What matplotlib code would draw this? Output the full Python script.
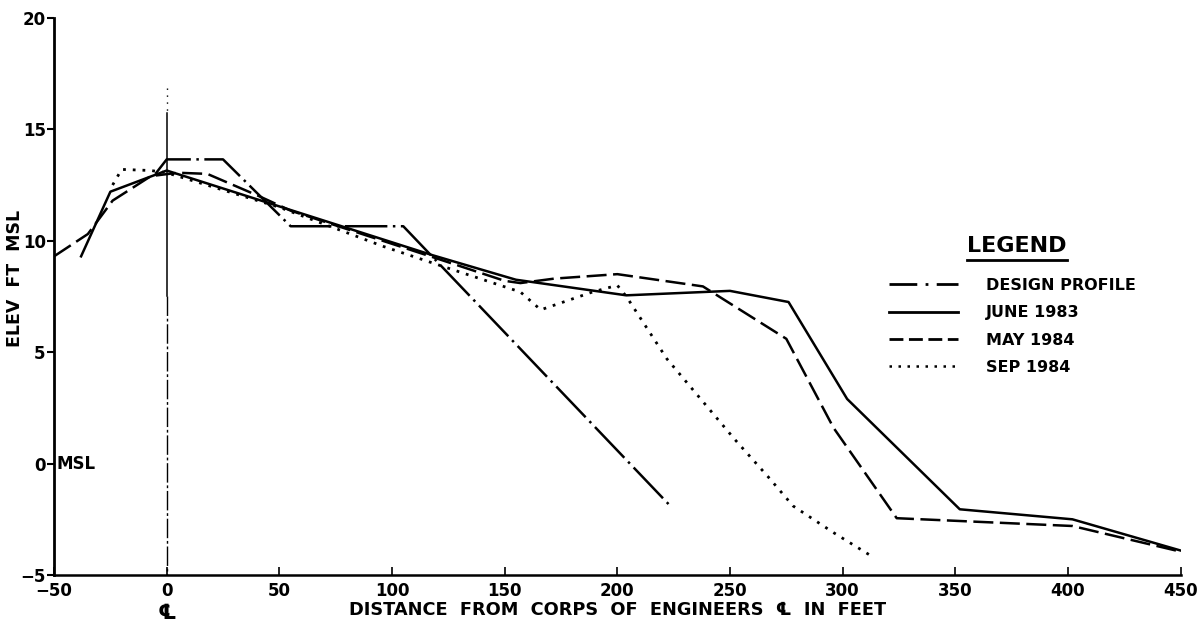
import numpy as np
import matplotlib
matplotlib.use("Agg")
import matplotlib.pyplot as plt
from matplotlib.lines import Line2D
import matplotlib.transforms as mtransforms

plt.rcParams['font.family'] = ['DejaVu Sans']
plt.rcParams['font.weight'] = 'bold'

# profile data (distance from centerline in ft, elevation ft MSL)
design_x = [-5, 0, 25, 55, 105, 224]
design_y = [13.0, 13.65, 13.65, 10.65, 10.65, -1.95]

june_x = [-38, -25, 0, 118, 155, 204, 250, 276, 302, 352, 402, 450]
june_y = [9.3, 12.2, 13.15, 9.35, 8.25, 7.55, 7.75, 7.25, 2.9, -2.05, -2.5, -3.9]

may_x = [-50, -35, -24, -7, 5, 18, 41, 55, 120, 150, 157, 172, 200, 238, 275, 296, 324, 402, 450]
may_y = [9.3, 10.3, 11.8, 12.9, 13.05, 13.0, 12.0, 11.35, 9.2, 8.2, 8.1, 8.3, 8.5, 7.95, 5.6, 1.6, -2.45, -2.8, -3.95]

sep_x = [-24, -20, -7, 0, 50, 75, 96, 121, 157, 166, 189, 200, 204, 222, 237, 252, 267, 278, 296, 312]
sep_y = [12.5, 13.2, 13.15, 13.05, 11.5, 10.55, 9.75, 8.9, 7.7, 6.9, 7.7, 8.0, 7.5, 4.7, 2.9, 1.1, -0.6, -1.9, -3.1, -4.1]

labels = ["DESIGN PROFILE", "JUNE 1983", "MAY 1984", "SEP 1984"]
xticks = [-50, 0, 50, 100, 150, 200, 250, 300, 350, 400, 450]
yticks = [-5, 0, 5, 10, 15, 20]

# centerline pieces (elevations)
cl_dot = [16.85, 15.75]
cl_solid = [15.75, 7.5]
cl_dash = [7.5, -5]

fig = plt.figure(figsize=(12.01, 6.31), dpi=100)
ax = fig.add_axes([0.045, 0.0887, 0.938, 0.883])

lw = 1.8
ax.plot(design_x, design_y, color='black', lw=lw, linestyle=(0, (17, 2.2, 1, 2.2)))
ax.plot(june_x, june_y, color='black', lw=lw)
ax.plot(may_x, may_y, color='black', lw=lw, linestyle=(0, (8, 2.6)))
ax.plot(sep_x, sep_y, color='black', lw=2.0, linestyle=(0, (1, 2.5)))

# centerline at 0
ax.plot([0, 0], cl_dot, color='black', lw=1.0, linestyle=(0, (1, 4)))
ax.plot([0, 0], cl_solid, color='black', lw=1.1)
ax.plot([0, 0], cl_dash, color='black', lw=1.0, linestyle=(0, (14, 2, 2, 2)))

ax.set_xlim(-50, 450)
ax.set_ylim(-5, 20)
ax.set_xticks(xticks)
ax.set_yticks(yticks)
ax.spines['top'].set_visible(False)
ax.spines['right'].set_visible(False)
ax.spines['left'].set_linewidth(2.0)
ax.spines['bottom'].set_linewidth(1.8)
ax.tick_params(axis='x', direction='in', length=6, width=1.2, labelsize=12, pad=5)
ax.tick_params(axis='y', direction='out', length=5, width=1.5, labelsize=12, pad=1)
# nudge the -5 label up slightly so it clears the -50 label
ax.get_yticklabels()[0].set_va('center_baseline')

ax.set_xlabel("DISTANCE  FROM  CORPS  OF  ENGINEERS  \u2104  IN  FEET",
              fontsize=12.8, fontweight='bold', labelpad=1)
ax.text(-0.035, 0.533, "ELEV  FT  MSL", transform=ax.transAxes, rotation=90,
        fontsize=12.5, fontweight='bold', ha='center', va='center')
ax.text(-48.8, 0, "MSL", fontsize=12, fontweight='bold', va='center', ha='left')

blend = mtransforms.blended_transform_factory(ax.transData, ax.transAxes)
ax.text(0, -0.068, "\u2104", transform=blend, fontsize=15, fontweight='bold',
        ha='center', va='center')

handles = [
    Line2D([], [], color='black', lw=2, linestyle=(0, (10, 3, 1, 3))),
    Line2D([], [], color='black', lw=2),
    Line2D([], [], color='black', lw=2, linestyle=(0, (5, 2))),
    Line2D([], [], color='black', lw=1.8, linestyle=(0, (1, 2.6))),
]
leg = ax.legend(handles, labels, loc='upper left', bbox_to_anchor=(0.734, 0.548),
                frameon=False, fontsize=11.5, handlelength=4.3, handletextpad=1.8,
                labelspacing=0.78, borderpad=0)

title = ax.text(0.855, 0.591, "LEGEND", transform=ax.transAxes, fontsize=16,
                fontweight='bold', ha='center', va='center')
fig.canvas.draw()
bb = title.get_window_extent().transformed(ax.transAxes.inverted())
ax.plot([bb.x0, bb.x1], [bb.y0 - 0.008, bb.y0 - 0.008], transform=ax.transAxes,
        color='black', lw=2, clip_on=False)

fig.savefig("out.png", dpi=100)
